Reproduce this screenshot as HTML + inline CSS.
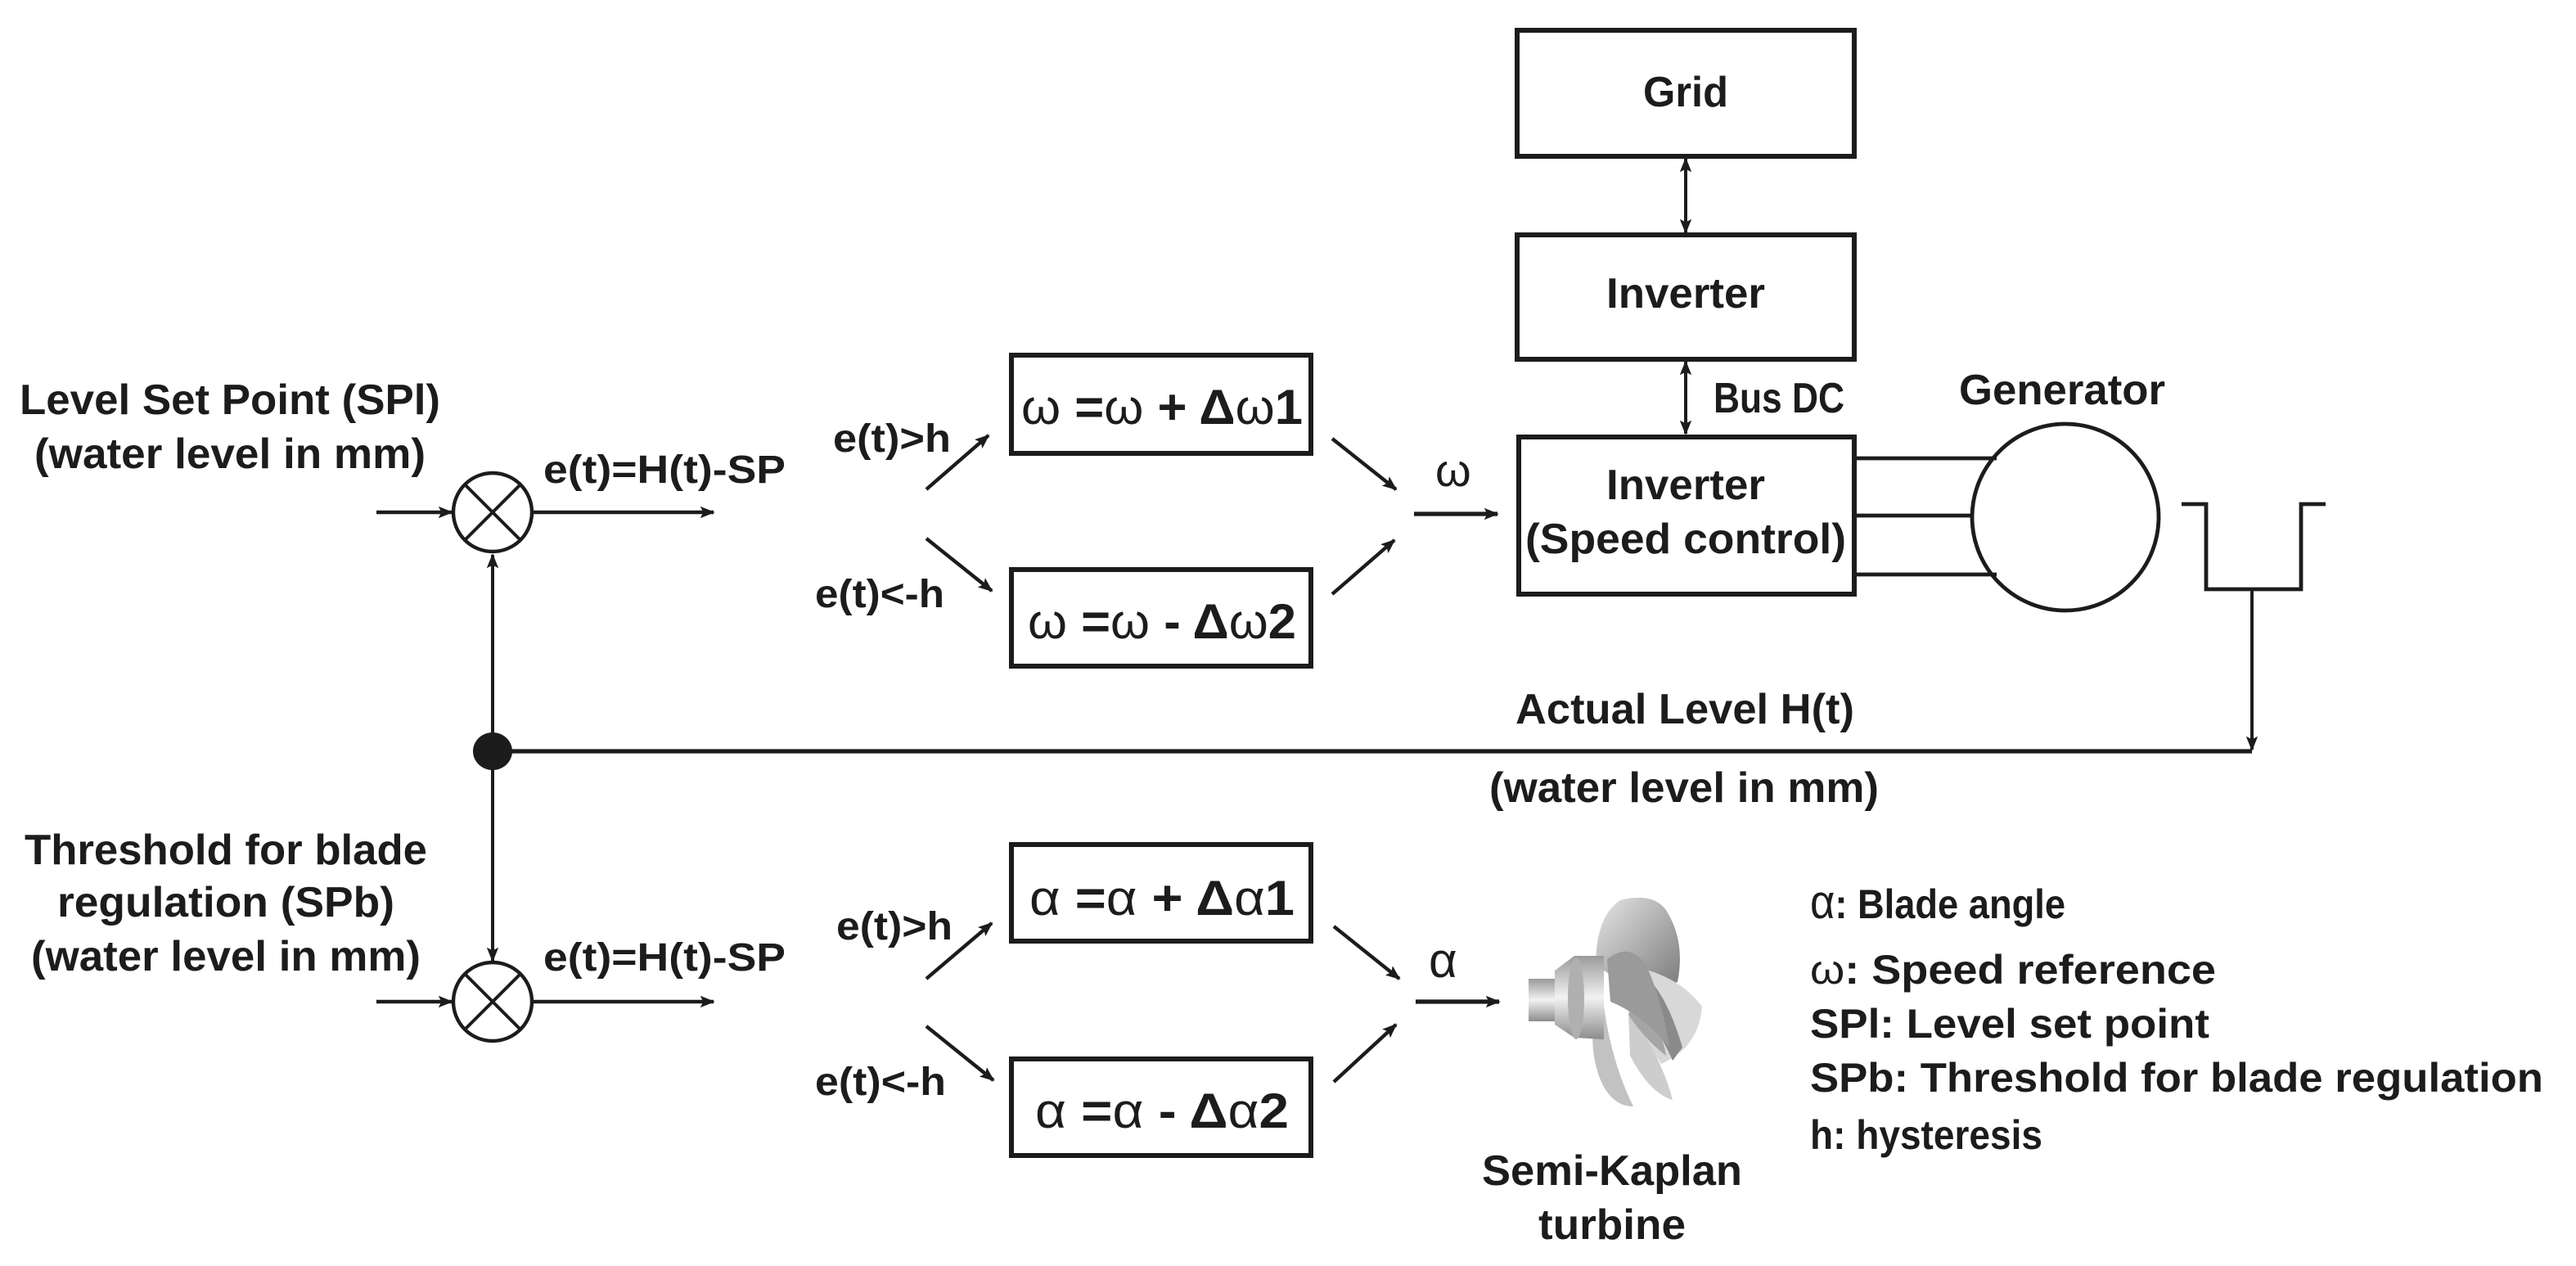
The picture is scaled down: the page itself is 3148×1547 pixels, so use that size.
<!DOCTYPE html>
<html><head><meta charset="utf-8"><style>
html,body{margin:0;padding:0;background:#fff;}
svg{display:block;}
text{font-family:"Liberation Sans",Arial,sans-serif;font-weight:bold;fill:#1c1c1c;}
</style></head><body>
<svg width="3148" height="1547" viewBox="0 0 1574 773.5" xmlns="http://www.w3.org/2000/svg">
<defs>
<marker id="b" viewBox="0 0 10 10" refX="9" refY="5" markerWidth="9" markerHeight="9" orient="auto-start-reverse" markerUnits="userSpaceOnUse">
<path d="M0,1 L10,5 L0,9 L2,5 Z" fill="#1c1c1c"/></marker>
<linearGradient id="g2" x1="0" y1="0" x2="0" y2="1"><stop offset="0" stop-color="#9a9a9a"/><stop offset="0.5" stop-color="#f2f2f2"/><stop offset="1" stop-color="#8c8c8c"/></linearGradient>
<linearGradient id="g3" x1="0" y1="0" x2="1" y2="1"><stop offset="0" stop-color="#e6e6e6"/><stop offset="1" stop-color="#7a7a7a"/></linearGradient>
</defs>
<g stroke="#1c1c1c" fill="none">
<rect x="927" y="18.5" width="206" height="77" stroke-width="3"/>
<rect x="927" y="143.5" width="206" height="76" stroke-width="3"/>
<rect x="928" y="267" width="205" height="96" stroke-width="3"/>
<rect x="618" y="217" width="183" height="60" stroke-width="3"/>
<rect x="618" y="348" width="183" height="59" stroke-width="3"/>
<rect x="618" y="516" width="183" height="59" stroke-width="3"/>
<rect x="618" y="647" width="183" height="59" stroke-width="3"/>
<line x1="1030" y1="97" x2="1030" y2="142" stroke-width="2" marker-start="url(#b)" marker-end="url(#b)"/>
<line x1="1030" y1="221" x2="1030" y2="265" stroke-width="2" marker-start="url(#b)" marker-end="url(#b)"/>
<circle cx="1262" cy="316" r="57" stroke-width="2.4"/>
<line x1="1133" y1="280" x2="1220" y2="280" stroke-width="2.4"/>
<line x1="1133" y1="315" x2="1205" y2="315" stroke-width="2.4"/>
<line x1="1133" y1="351" x2="1220" y2="351" stroke-width="2.4"/>
<polyline points="1333,308 1348,308 1348,360 1406,360 1406,308 1421,308" stroke-width="2.4"/>
<line x1="1376" y1="360" x2="1376" y2="458" stroke-width="2" marker-end="url(#b)"/>
<line x1="301" y1="459" x2="1376" y2="459" stroke-width="2.6"/>
<line x1="301" y1="459" x2="301" y2="339" stroke-width="2" marker-end="url(#b)"/>
<line x1="301" y1="459" x2="301" y2="587" stroke-width="2" marker-end="url(#b)"/>
<circle cx="301" cy="313" r="24" stroke-width="2.2"/>
<line x1="284" y1="296" x2="318" y2="330" stroke-width="2"/>
<line x1="318" y1="296" x2="284" y2="330" stroke-width="2"/>
<circle cx="301" cy="612" r="24" stroke-width="2.2"/>
<line x1="284" y1="595" x2="318" y2="629" stroke-width="2"/>
<line x1="318" y1="595" x2="284" y2="629" stroke-width="2"/>
<line x1="230" y1="313" x2="276" y2="313" stroke-width="2.2" marker-end="url(#b)"/>
<line x1="325" y1="313" x2="436" y2="313" stroke-width="2.2" marker-end="url(#b)"/>
<line x1="230" y1="612" x2="276" y2="612" stroke-width="2.2" marker-end="url(#b)"/>
<line x1="325" y1="612" x2="436" y2="612" stroke-width="2.2" marker-end="url(#b)"/>
<line x1="566" y1="299" x2="604" y2="266" stroke-width="2.2" marker-end="url(#b)"/>
<line x1="566" y1="329" x2="606" y2="361" stroke-width="2.2" marker-end="url(#b)"/>
<line x1="814" y1="268" x2="853" y2="299" stroke-width="2.2" marker-end="url(#b)"/>
<line x1="814" y1="363" x2="852" y2="330" stroke-width="2.2" marker-end="url(#b)"/>
<line x1="864" y1="314" x2="915" y2="314" stroke-width="2.6" marker-end="url(#b)"/>
<line x1="566" y1="598" x2="606" y2="564" stroke-width="2.2" marker-end="url(#b)"/>
<line x1="566" y1="627" x2="607" y2="660" stroke-width="2.2" marker-end="url(#b)"/>
<line x1="815" y1="566" x2="855" y2="598" stroke-width="2.2" marker-end="url(#b)"/>
<line x1="815" y1="661" x2="853" y2="626" stroke-width="2.2" marker-end="url(#b)"/>
<line x1="865" y1="612" x2="916" y2="612" stroke-width="2.6" marker-end="url(#b)"/>
</g>
<ellipse cx="301" cy="459" rx="12" ry="11.5" fill="#1c1c1c"/>

<!-- turbine -->
<g stroke="none">
<path d="M975,590 Q975,560 990,550 Q1010,545 1018,556 Q1030,575 1025,600 L1000,605 Z" fill="url(#g3)"/>
<path d="M995,590 Q1025,595 1040,615 Q1038,640 1015,650 L995,620Z" fill="#d8d8d8"/>
<path d="M980,615 Q985,650 998,676 Q985,676 978,660 Q970,640 975,615Z" fill="#c2c2c2"/>
<path d="M995,618 Q1015,645 1022,672 Q1008,668 996,645Z" fill="#cdcdcd"/>
<path d="M992,588 Q1015,595 1028,640 L1022,648 Q1010,620 990,605Z" fill="#8a8a8a"/>
<path d="M1000,612 Q1015,625 1018,645 Q1005,635 995,620Z" fill="#a5a5a5"/>
<rect x="934" y="598" width="20" height="26" fill="url(#g2)"/>
<path d="M950,593 L962,584 L980,584 L980,635 L962,634 L950,626Z" fill="url(#g2)"/>
<ellipse cx="963" cy="610" rx="5" ry="25" fill="#b0b0b0"/>
<path d="M982,586 Q996,575 1006,590 Q1016,612 1020,640 Q1004,620 984,612Z" fill="#9a9a9a"/>
</g>

<text x="1030" y="65" font-size="26" text-anchor="middle" textLength="52" lengthAdjust="spacingAndGlyphs">Grid</text>
<text x="1030" y="188" font-size="26" text-anchor="middle" textLength="97" lengthAdjust="spacingAndGlyphs">Inverter</text>
<text x="1030" y="305" font-size="26" text-anchor="middle" textLength="97" lengthAdjust="spacingAndGlyphs">Inverter</text>
<text x="1030" y="338" font-size="26" text-anchor="middle" textLength="196" lengthAdjust="spacingAndGlyphs">(Speed control)</text>
<text x="1047" y="252" font-size="26" textLength="80" lengthAdjust="spacingAndGlyphs">Bus DC</text>
<text x="1197" y="247" font-size="26" textLength="126" lengthAdjust="spacingAndGlyphs">Generator</text>
<text x="926" y="442" font-size="26" textLength="207" lengthAdjust="spacingAndGlyphs">Actual Level H(t)</text>
<text x="910" y="490" font-size="26" textLength="238" lengthAdjust="spacingAndGlyphs">(water level in mm)</text>

<text x="12" y="253" font-size="26" textLength="257" lengthAdjust="spacingAndGlyphs">Level Set Point (SPl)</text>
<text x="21" y="286" font-size="26" textLength="239" lengthAdjust="spacingAndGlyphs">(water level in mm)</text>
<text x="15" y="528" font-size="26" textLength="246" lengthAdjust="spacingAndGlyphs">Threshold for blade</text>
<text x="35" y="560" font-size="26" textLength="206" lengthAdjust="spacingAndGlyphs">regulation (SPb)</text>
<text x="19" y="593" font-size="26" textLength="238" lengthAdjust="spacingAndGlyphs">(water level in mm)</text>

<text x="332" y="295" font-size="24" textLength="148" lengthAdjust="spacingAndGlyphs">e(t)=H(t)-SP</text>
<text x="332" y="593" font-size="24" textLength="148" lengthAdjust="spacingAndGlyphs">e(t)=H(t)-SP</text>
<text x="509" y="276" font-size="24" textLength="72" lengthAdjust="spacingAndGlyphs">e(t)&gt;h</text>
<text x="498" y="371" font-size="24" textLength="79" lengthAdjust="spacingAndGlyphs">e(t)&lt;-h</text>
<text x="511" y="574" font-size="24" textLength="71" lengthAdjust="spacingAndGlyphs">e(t)&gt;h</text>
<text x="498" y="669" font-size="24" textLength="80" lengthAdjust="spacingAndGlyphs">e(t)&lt;-h</text>

<text x="710" y="259" font-size="30" text-anchor="middle" textLength="172" lengthAdjust="spacingAndGlyphs"><tspan style="font-weight:normal">ω</tspan> =<tspan style="font-weight:normal">ω</tspan> + Δ<tspan style="font-weight:normal">ω</tspan>1</text>
<text x="710" y="390" font-size="30" text-anchor="middle" textLength="164" lengthAdjust="spacingAndGlyphs"><tspan style="font-weight:normal">ω</tspan> =<tspan style="font-weight:normal">ω</tspan> - Δ<tspan style="font-weight:normal">ω</tspan>2</text>
<text x="710" y="559" font-size="30" text-anchor="middle" textLength="162" lengthAdjust="spacingAndGlyphs"><tspan style="font-weight:normal">α</tspan> =<tspan style="font-weight:normal">α</tspan> + Δ<tspan style="font-weight:normal">α</tspan>1</text>
<text x="710" y="689" font-size="30" text-anchor="middle" textLength="155" lengthAdjust="spacingAndGlyphs"><tspan style="font-weight:normal">α</tspan> =<tspan style="font-weight:normal">α</tspan> - Δ<tspan style="font-weight:normal">α</tspan>2</text>
<text x="877" y="297" font-size="28" style="font-weight:normal">ω</text>
<text x="873" y="597" font-size="30" style="font-weight:normal">α</text>

<text x="985" y="724" font-size="26" text-anchor="middle" textLength="159" lengthAdjust="spacingAndGlyphs">Semi-Kaplan</text>
<text x="985" y="757" font-size="26" text-anchor="middle" textLength="90" lengthAdjust="spacingAndGlyphs">turbine</text>

<text x="1106" y="561" font-size="25" textLength="156" lengthAdjust="spacingAndGlyphs"><tspan style="font-weight:normal" font-size="29">α</tspan>: Blade angle</text>
<text x="1106" y="601" font-size="25" textLength="248" lengthAdjust="spacingAndGlyphs"><tspan style="font-weight:normal">ω</tspan>: Speed reference</text>
<text x="1106" y="634" font-size="25" textLength="244" lengthAdjust="spacingAndGlyphs">SPl: Level set point</text>
<text x="1106" y="667" font-size="25" textLength="448" lengthAdjust="spacingAndGlyphs">SPb: Threshold for blade regulation</text>
<text x="1106" y="702" font-size="25" textLength="142" lengthAdjust="spacingAndGlyphs">h: hysteresis</text>
</svg>
</body></html>
